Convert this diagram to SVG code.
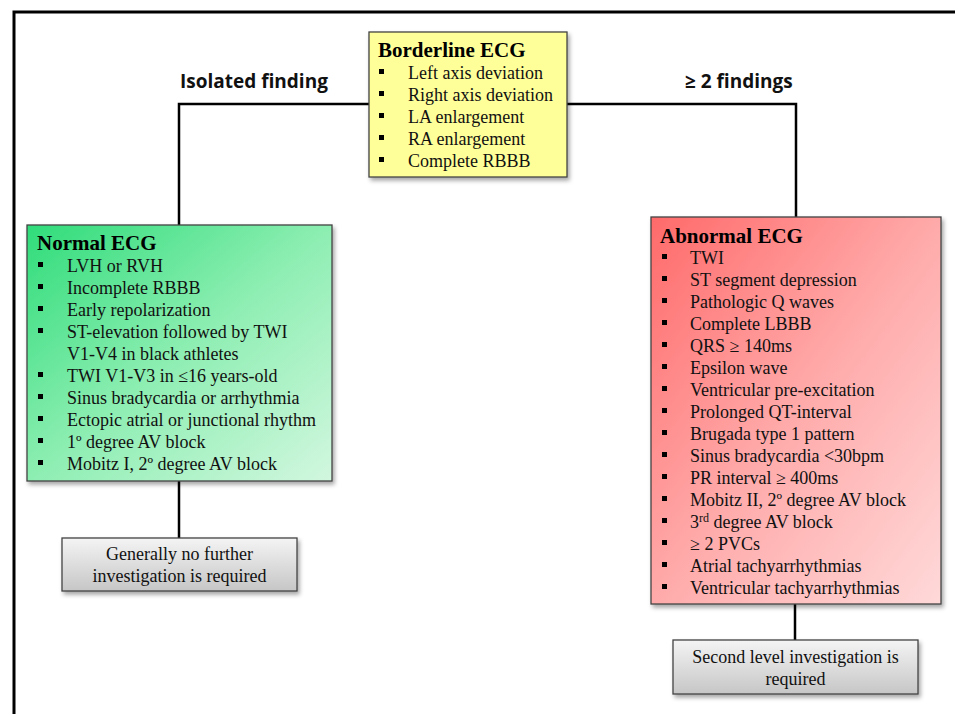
<svg xmlns="http://www.w3.org/2000/svg" width="955" height="714" viewBox="0 0 955 714">
<defs>
<linearGradient id="gGreen" x1="0" y1="0" x2="1" y2="1">
<stop offset="0" stop-color="#2fdc7a"/>
<stop offset="0.5" stop-color="#8deeb2"/>
<stop offset="1" stop-color="#d2f7df"/>
</linearGradient>
<linearGradient id="gRed" x1="0" y1="0" x2="1" y2="1">
<stop offset="0" stop-color="#ff6a6a"/>
<stop offset="0.5" stop-color="#ffaaaa"/>
<stop offset="1" stop-color="#ffd9d9"/>
</linearGradient>
<linearGradient id="gGray" x1="0" y1="0" x2="0" y2="1">
<stop offset="0" stop-color="#f4f4f4"/>
<stop offset="1" stop-color="#c6c6c6"/>
</linearGradient>
<filter id="sh" x="-10%" y="-10%" width="125%" height="125%">
<feDropShadow dx="2" dy="3" stdDeviation="2" flood-color="#000" flood-opacity="0.35"/>
</filter>
</defs>
<style>
.box{stroke:#444;stroke-width:1.3;filter:url(#sh)}
.ttl{font-family:"Liberation Serif","Times New Roman",serif;font-weight:bold;font-size:21px;fill:#000}
.it{font-family:"Liberation Serif","Times New Roman",serif;font-size:18px;fill:#111}
.ct{font-family:"Liberation Serif","Times New Roman",serif;font-size:18px;fill:#111;text-anchor:middle}
.lbl{font-family:"Open Sans","Liberation Sans",sans-serif;font-weight:bold;font-size:19px;fill:#111}
.b{fill:#000}
.ln{fill:none;stroke:#000;stroke-width:2.5}
</style>
<rect width="955" height="714" fill="#fff"/>
<path d="M14 714 V12 H955" fill="none" stroke="#000" stroke-width="3"/>

<g id="connectors">
<path class="ln" d="M369 104 H179 V225"/>
<path class="ln" d="M567 104 H796 V217"/>
<path class="ln" d="M179 481 V538"/>
<path class="ln" d="M795 604 V640"/>
</g>

<g id="labels">
<text class="lbl" x="180" y="88">Isolated finding</text>
<text class="lbl" x="685" y="88">≥ 2 findings</text>
</g>

<g id="borderline">
<rect class="box" x="369" y="32" width="198" height="145" fill="#ffff99"/>
<text class="ttl" x="378" y="57">Borderline ECG</text>
<rect class="b" x="379" y="69" width="5" height="5"/>
<rect class="b" x="379" y="91" width="5" height="5"/>
<rect class="b" x="379" y="113" width="5" height="5"/>
<rect class="b" x="379" y="135" width="5" height="5"/>
<rect class="b" x="379" y="157" width="5" height="5"/>
<text class="it" x="408" y="79">Left axis deviation</text>
<text class="it" x="408" y="101">Right axis deviation</text>
<text class="it" x="408" y="123">LA enlargement</text>
<text class="it" x="408" y="145">RA enlargement</text>
<text class="it" x="408" y="167">Complete RBBB</text>
</g>

<g id="normal">
<rect class="box" x="27" y="225" width="305" height="256" fill="url(#gGreen)"/>
<text class="ttl" x="37" y="250">Normal ECG</text>
<g class="b">
<rect x="38" y="262" width="5" height="5"/>
<rect x="38" y="284" width="5" height="5"/>
<rect x="38" y="306" width="5" height="5"/>
<rect x="38" y="328" width="5" height="5"/>
<rect x="38" y="372" width="5" height="5"/>
<rect x="38" y="394" width="5" height="5"/>
<rect x="38" y="416" width="5" height="5"/>
<rect x="38" y="438" width="5" height="5"/>
<rect x="38" y="460" width="5" height="5"/>
</g>
<text class="it" x="67" y="272">LVH or RVH</text>
<text class="it" x="67" y="294">Incomplete RBBB</text>
<text class="it" x="67" y="316">Early repolarization</text>
<text class="it" x="67" y="338">ST-elevation followed by TWI</text>
<text class="it" x="67" y="360">V1-V4 in black athletes</text>
<text class="it" x="67" y="382">TWI V1-V3 in ≤16 years-old</text>
<text class="it" x="67" y="404">Sinus bradycardia or arrhythmia</text>
<text class="it" x="67" y="426">Ectopic atrial or junctional rhythm</text>
<text class="it" x="67" y="448">1º degree AV block</text>
<text class="it" x="67" y="470">Mobitz I, 2º degree AV block</text>
</g>

<g id="abnormal">
<rect class="box" x="651" y="217" width="290" height="387" fill="url(#gRed)"/>
<text class="ttl" x="660" y="243">Abnormal ECG</text>
<g class="b">
<rect x="662" y="254" width="5" height="5"/>
<rect x="662" y="276" width="5" height="5"/>
<rect x="662" y="298" width="5" height="5"/>
<rect x="662" y="320" width="5" height="5"/>
<rect x="662" y="342" width="5" height="5"/>
<rect x="662" y="364" width="5" height="5"/>
<rect x="662" y="386" width="5" height="5"/>
<rect x="662" y="408" width="5" height="5"/>
<rect x="662" y="430" width="5" height="5"/>
<rect x="662" y="452" width="5" height="5"/>
<rect x="662" y="474" width="5" height="5"/>
<rect x="662" y="496" width="5" height="5"/>
<rect x="662" y="518" width="5" height="5"/>
<rect x="662" y="540" width="5" height="5"/>
<rect x="662" y="562" width="5" height="5"/>
<rect x="662" y="584" width="5" height="5"/>
</g>
<text class="it" x="690" y="264">TWI</text>
<text class="it" x="690" y="286">ST segment depression</text>
<text class="it" x="690" y="308">Pathologic Q waves</text>
<text class="it" x="690" y="330">Complete LBBB</text>
<text class="it" x="690" y="352">QRS ≥ 140ms</text>
<text class="it" x="690" y="374">Epsilon wave</text>
<text class="it" x="690" y="396">Ventricular pre-excitation</text>
<text class="it" x="690" y="418">Prolonged QT-interval</text>
<text class="it" x="690" y="440">Brugada type 1 pattern</text>
<text class="it" x="690" y="462">Sinus bradycardia &lt;30bpm</text>
<text class="it" x="690" y="484">PR interval ≥ 400ms</text>
<text class="it" x="690" y="506">Mobitz II, 2º degree AV block</text>
<text class="it" x="690" y="528">3<tspan font-size="12" dy="-6">rd</tspan><tspan dy="6"> degree AV block</tspan></text>
<text class="it" x="690" y="550">≥ 2 PVCs</text>
<text class="it" x="690" y="572">Atrial tachyarrhythmias</text>
<text class="it" x="690" y="594">Ventricular tachyarrhythmias</text>
</g>

<g id="no-further">
<rect class="box" x="62" y="538" width="235" height="53" fill="url(#gGray)"/>
<text class="ct" x="179.5" y="560">Generally no further</text>
<text class="ct" x="179.5" y="582">investigation is required</text>
</g>

<g id="second-level">
<rect class="box" x="673" y="640" width="245" height="54" fill="url(#gGray)"/>
<text class="ct" x="795.5" y="663">Second level investigation is</text>
<text class="ct" x="795.5" y="685">required</text>
</g>
</svg>
